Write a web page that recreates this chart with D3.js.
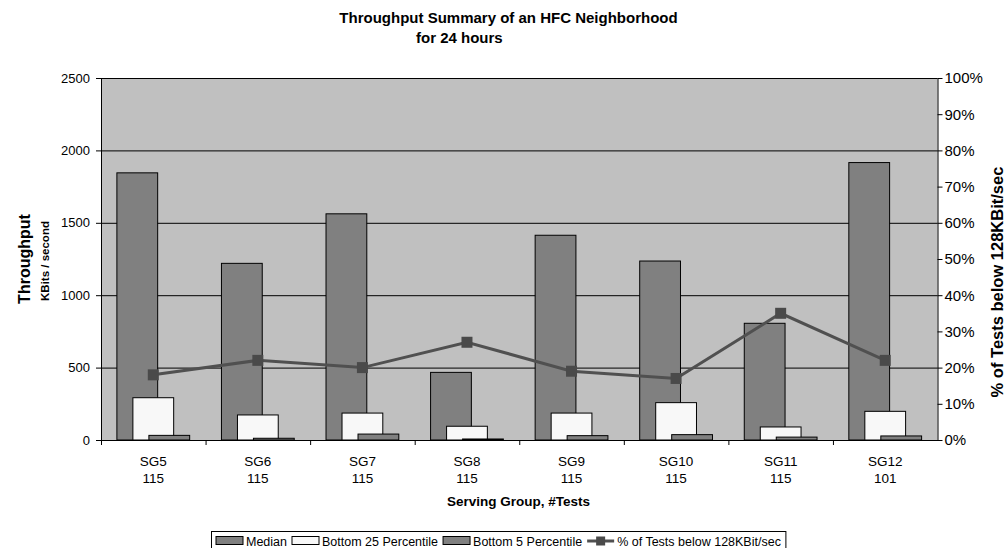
<!DOCTYPE html>
<html>
<head>
<meta charset="utf-8">
<script src="https://cdn.jsdelivr.net/npm/d3@7"></script>
<style>
  html, body { margin: 0; padding: 0; background: #fff; }
  svg { display: block; font-family: "Liberation Sans", Arial, sans-serif; }
</style>
</head>
<body>
<svg id="chart" width="1005" height="548"></svg>
<script>
// Serving groups and number of tests run in each
const groups = ["SG5", "SG6", "SG7", "SG8", "SG9", "SG10", "SG11", "SG12"];
const testCounts = [115, 115, 115, 115, 115, 115, 115, 101];

// Throughput in KBits / second
const median = [1845, 1220, 1562, 467, 1414, 1236, 806, 1916];
const bottom25 = [292, 173, 186, 95, 186, 258, 90, 198];
const bottom5 = [32, 12, 41, 7, 30, 37, 20, 28];

// Share of tests below 128 KBit/sec
const pctBelow = [0.18, 0.22, 0.20, 0.27, 0.19, 0.17, 0.35, 0.22];

// Axis ticks
const leftTicks = [0, 500, 1000, 1500, 2000, 2500];
const rightTicks = [0, 0.1, 0.2, 0.3, 0.4, 0.5, 0.6, 0.7, 0.8, 0.9, 1.0];

const barSeries = [
  { name: "Median", values: median, fill: "#808080" },
  { name: "Bottom 25 Percentile", values: bottom25, fill: "#f8f8f8" },
  { name: "Bottom 5 Percentile", values: bottom5, fill: "#808080" }
];
const lineName = "% of Tests below 128KBit/sec";

const svg = d3.select("#chart");
const plot = { left: 101, right: 937.5, top: 78, bottom: 440 };

const x = d3.scaleBand().domain(groups).range([plot.left, plot.right]).padding(0);
const y = d3.scaleLinear().domain([0, 2500]).range([plot.bottom, plot.top]);
const y2 = d3.scaleLinear().domain([0, 1]).range([plot.bottom, plot.top]);

const bw = x.bandwidth();
const barW = bw * 0.39;
const barStep = bw * 0.153;
const groupSpan = barW + barStep * (barSeries.length - 1);

// Plot background
svg.append("rect")
  .attr("x", plot.left).attr("y", plot.top)
  .attr("width", plot.right - plot.left).attr("height", plot.bottom - plot.top)
  .attr("fill", "#c0c0c0");

// Horizontal gridlines
svg.append("g").selectAll("line")
  .data(leftTicks.filter(d => d > 0))
  .join("line")
  .attr("x1", plot.left).attr("x2", plot.right)
  .attr("y1", d => y(d) + 0.5).attr("y2", d => y(d) + 0.5)
  .attr("stroke", "#000").attr("stroke-width", 1);

// Bars, drawn series by series so later series overlap earlier ones
barSeries.forEach((s, si) => {
  svg.append("g").selectAll("rect")
    .data(s.values.map((v, i) => ({ v, g: groups[i] })))
    .join("rect")
    .attr("x", d => x(d.g) + bw / 2 - groupSpan / 2 + si * barStep)
    .attr("y", d => y(d.v))
    .attr("width", barW)
    .attr("height", d => y(0) - y(d.v))
    .attr("fill", s.fill)
    .attr("stroke", "#000")
    .attr("stroke-width", 1);
});

// Percentage line with square markers
const linePts = pctBelow.map((v, i) => ({ v, g: groups[i] }));
svg.append("path")
  .datum(linePts)
  .attr("fill", "none")
  .attr("stroke", "#505050")
  .attr("stroke-width", 3)
  .attr("d", d3.line().x(d => x(d.g) + bw / 2).y(d => y2(d.v)));
const mk = 11;
svg.append("g").selectAll("rect")
  .data(linePts)
  .join("rect")
  .attr("x", d => x(d.g) + bw / 2 - mk / 2)
  .attr("y", d => y2(d.v) - mk / 2)
  .attr("width", mk).attr("height", mk)
  .attr("fill", "#4a4a4a");

// Left axis
const gL = svg.append("g")
  .attr("transform", `translate(${plot.left},0)`)
  .call(d3.axisLeft(y).tickValues(leftTicks).tickSize(5).tickSizeOuter(0).tickPadding(6).tickFormat(d3.format("d")));
gL.selectAll("text").attr("font-size", 13).attr("fill", "#000").attr("font-family", "Liberation Sans, Arial, sans-serif");
gL.selectAll("line, path").attr("stroke", "#000");

// Right axis
const gR = svg.append("g")
  .attr("transform", `translate(${plot.right},0)`)
  .call(d3.axisRight(y2).tickValues(rightTicks).tickSize(5).tickSizeOuter(0).tickPadding(2).tickFormat(d3.format(".0%")));
gR.selectAll("text").attr("font-size", 15).attr("fill", "#000").attr("font-family", "Liberation Sans, Arial, sans-serif");
gR.selectAll("line, path").attr("stroke", "#000");

// Bottom axis: ticks on the category boundaries
const xb = d3.scaleLinear().domain([0, groups.length]).range([plot.left, plot.right]);
const gB = svg.append("g")
  .attr("transform", `translate(0,${plot.bottom})`)
  .call(d3.axisBottom(xb).tickValues(d3.range(0, groups.length)).tickSize(5).tickSizeOuter(0).tickFormat(""));
gB.selectAll("line, path").attr("stroke", "#000");

// Category labels: group name and test count
const catLab = svg.append("g").attr("font-size", 13.5).attr("text-anchor", "middle").attr("fill", "#000");
catLab.selectAll("text.g").data(groups).join("text").attr("class", "g")
  .attr("x", d => x(d) + bw / 2).attr("y", 466).text(d => d);
catLab.selectAll("text.n").data(testCounts).join("text").attr("class", "n")
  .attr("x", (d, i) => x(groups[i]) + bw / 2).attr("y", 483).text(d => d);

// Title
svg.append("text").attr("x", 508.5).attr("y", 23).attr("text-anchor", "middle")
  .attr("font-size", 15).attr("font-weight", "bold").text("Throughput Summary of an HFC Neighborhood");
svg.append("text").attr("x", 416).attr("y", 43).attr("text-anchor", "start")
  .attr("font-size", 15).attr("font-weight", "bold").text("for 24 hours");

// Axis titles
svg.append("text").attr("x", 518.5).attr("y", 506).attr("text-anchor", "middle")
  .attr("font-size", 13.5).attr("font-weight", "bold").text("Serving Group, #Tests");
svg.append("text").attr("transform", "translate(30,259) rotate(-90)").attr("text-anchor", "middle")
  .attr("font-size", 16).attr("font-weight", "bold").text("Throughput");
svg.append("text").attr("transform", "translate(49,261) rotate(-90)").attr("text-anchor", "middle")
  .attr("font-size", 11.5).attr("font-weight", "bold").text("KBits / second");
svg.append("text").attr("transform", "translate(1003,282) rotate(-90)").attr("text-anchor", "middle")
  .attr("font-size", 16.5).attr("font-weight", "bold").text(lineName);

// Legend
const leg = svg.append("g");
const legBorder = leg.append("rect");
let lx = 216;
const swW = 27, txtY = 546;
const legItems = barSeries.map(s => ({ type: "bar", fill: s.fill, name: s.name }))
  .concat([{ type: "line", name: lineName }]);
legItems.forEach(it => {
  if (it.type === "bar") {
    leg.append("rect").attr("x", lx).attr("y", 536.5).attr("width", swW).attr("height", 8)
      .attr("fill", it.fill).attr("stroke", "#000").attr("stroke-width", 1);
  } else {
    leg.append("line").attr("x1", lx).attr("x2", lx + swW).attr("y1", 541).attr("y2", 541)
      .attr("stroke", "#505050").attr("stroke-width", 3);
    leg.append("rect").attr("x", lx + swW / 2 - 4.5).attr("y", 536.5).attr("width", 9).attr("height", 9)
      .attr("fill", "#4a4a4a");
  }
  const t = leg.append("text").attr("x", lx + swW + 3).attr("y", txtY)
    .attr("font-size", 12.5).attr("fill", "#000").text(it.name);
  lx = lx + swW + 3 + t.node().getComputedTextLength() + 5;
});
legBorder.attr("x", 211.5).attr("y", 531.5).attr("width", lx - 211.5).attr("height", 30)
  .attr("fill", "#fff").attr("stroke", "#000").attr("stroke-width", 1);
</script>
</body>
</html>
